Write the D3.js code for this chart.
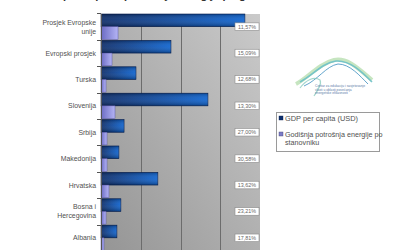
<!DOCTYPE html>
<html>
<head>
<meta charset="utf-8">
<script src="https://cdn.jsdelivr.net/npm/d3@7"></script>
<style>
  html, body { margin: 0; padding: 0; background: #fff; }
  svg { display: block; font-family: "Liberation Sans", Arial, sans-serif; }
</style>
</head>
<body>
<svg id="chart" width="400" height="250"></svg>
<script>
// Countries / regions, top to bottom
const categories = [
  "Prosjek Evropske unije",
  "Evropski prosjek",
  "Turska",
  "Slovenija",
  "Srbija",
  "Makedonija",
  "Hrvatska",
  "Bosna i Hercegovina",
  "Albania"
];
// Wrapped category labels
const categoryLines = [
  ["Prosjek Evropske", "unije"],
  ["Evropski prosjek"],
  ["Turska"],
  ["Slovenija"],
  ["Srbija"],
  ["Makedonija"],
  ["Hrvatska"],
  ["Bosna i", "Hercegovina"],
  ["Albania"]
];
// GDP per capita (USD)
const gdpPerCapita = [36200, 17600, 8800, 26900, 5800, 4500, 14300, 5000, 4000];
// Annual energy consumption per inhabitant
const energyPerCapita = [4280, 2770, 1260, 3520, 1510, 1510, 2000, 1260, 750];
// Share labels shown at the right edge of each row
const shareLabels = ["11,57%", "15,09%", "12,68%", "13,30%", "27,00%", "30,58%", "13,62%", "23,21%", "17,81%"];
const xTicks = [10000, 20000, 30000];
const seriesNames = ["GDP per capita (USD)", "Godišnja potrošnja energije po stanovniku"];

const svg = d3.select("#chart");
const plot = { left: 101, right: 260, top: 14, bottom: 250.5 };

const x = d3.scaleLinear().domain([0, 40000]).range([plot.left, plot.right]);
const y = d3.scaleBand().domain(categories).range([plot.top, plot.bottom]).paddingInner(0.04).paddingOuter(0.0);
const sub = d3.scaleBand().domain(["gdp", "energy"]).range([0, y.bandwidth()]).padding(0);

const defs = svg.append("defs");
const bg = defs.append("linearGradient").attr("id", "bgGrad")
  .attr("x1", 0).attr("y1", 1).attr("x2", 1).attr("y2", 0);
bg.append("stop").attr("offset", 0).attr("stop-color", "#959595");
bg.append("stop").attr("offset", 1).attr("stop-color", "#cacaca");

const gdpGrad = defs.append("linearGradient").attr("id", "gdpGrad")
  .attr("x1", 0).attr("y1", 0).attr("x2", 1).attr("y2", 0);
gdpGrad.append("stop").attr("offset", 0).attr("stop-color", "#0a2a68");
gdpGrad.append("stop").attr("offset", 1).attr("stop-color", "#0b62d0");

const gdpShade = defs.append("linearGradient").attr("id", "gdpShade")
  .attr("x1", 0).attr("y1", 0).attr("x2", 0).attr("y2", 1);
gdpShade.append("stop").attr("offset", 0).attr("stop-color", "#000").attr("stop-opacity", 0.25);
gdpShade.append("stop").attr("offset", 0.45).attr("stop-color", "#fff").attr("stop-opacity", 0.08);
gdpShade.append("stop").attr("offset", 1).attr("stop-color", "#000").attr("stop-opacity", 0.3);

const enGrad = defs.append("linearGradient").attr("id", "enGrad")
  .attr("x1", 0).attr("y1", 0).attr("x2", 1).attr("y2", 0);
enGrad.append("stop").attr("offset", 0).attr("stop-color", "#6a6ac4");
enGrad.append("stop").attr("offset", 1).attr("stop-color", "#b4b4f4");

// Title (runs above the top edge of the page)
svg.append("text")
  .attr("x", 264).attr("y", -1)
  .attr("text-anchor", "end")
  .attr("font-size", 11).attr("font-weight", "bold").attr("fill", "#333")
  .text("GDP per capita i potrošnja energije po glavi");

// Plot background
svg.append("rect")
  .attr("x", plot.left).attr("y", plot.top)
  .attr("width", plot.right - plot.left).attr("height", plot.bottom - plot.top)
  .attr("fill", "url(#bgGrad)");

// Vertical gridlines
svg.append("g").selectAll("line").data(xTicks).join("line")
  .attr("x1", d => Math.round(x(d)) + 0.5).attr("x2", d => Math.round(x(d)) + 0.5)
  .attr("y1", plot.top).attr("y2", plot.bottom)
  .attr("stroke", "#6c6c6c").attr("stroke-width", 1);

// GDP bars
const rows = svg.append("g").selectAll("g").data(categories).join("g")
  .attr("transform", d => `translate(0,${y(d)})`);

rows.append("rect")
  .attr("x", plot.left)
  .attr("y", sub("gdp"))
  .attr("width", (d, i) => x(gdpPerCapita[i]) - x(0))
  .attr("height", sub.bandwidth())
  .attr("fill", "url(#gdpGrad)")
  .attr("stroke", "#0a2050").attr("stroke-width", 0.6);
rows.append("rect")
  .attr("x", plot.left)
  .attr("y", sub("gdp"))
  .attr("width", (d, i) => x(gdpPerCapita[i]) - x(0))
  .attr("height", sub.bandwidth())
  .attr("fill", "url(#gdpShade)");

// Energy bars
rows.append("rect")
  .attr("x", plot.left)
  .attr("y", sub("energy"))
  .attr("width", (d, i) => x(energyPerCapita[i]) - x(0))
  .attr("height", sub.bandwidth())
  .attr("fill", "url(#enGrad)")
  .attr("stroke", "#5656a8").attr("stroke-width", 0.5);

// Share labels in boxes
const lab = svg.append("g").selectAll("g").data(categories).join("g")
  .attr("transform", d => `translate(247,${y(d) + y.bandwidth() / 2})`);
lab.append("rect")
  .attr("x", -12).attr("y", -3.8).attr("width", 24).attr("height", 7.6)
  .attr("fill", "#fff").attr("stroke", "#8a8a8a").attr("stroke-width", 0.6);
lab.append("text")
  .attr("text-anchor", "middle").attr("y", 2)
  .attr("font-size", 5.4).attr("fill", "#666")
  .text((d, i) => shareLabels[i]);

// Left axis
const axisG = svg.append("g");
axisG.append("line")
  .attr("x1", plot.left + 0.5).attr("x2", plot.left + 0.5)
  .attr("y1", plot.top).attr("y2", plot.bottom)
  .attr("stroke", "#555").attr("stroke-width", 1);
const boundaries = categories.map(c => y(c) - y.step() * y.paddingInner() / 2);
axisG.selectAll(".tk").data(boundaries).join("line")
  .attr("class", "tk")
  .attr("x1", plot.left - 4).attr("x2", plot.left)
  .attr("y1", d => Math.round(d) + 0.5).attr("y2", d => Math.round(d) + 0.5)
  .attr("stroke", "#555").attr("stroke-width", 1);

// Category labels
const catText = svg.append("g").selectAll("text").data(categories).join("text")
  .attr("text-anchor", "end")
  .attr("font-size", 6.9).attr("fill", "#505050")
  .attr("x", 96)
  .attr("y", (d, i) => {
    const n = categoryLines[i].length;
    return y(d) + y.bandwidth() / 2 + 2.5 - (n - 1) * 4.5;
  });
catText.each(function(d, i) {
  d3.select(this).selectAll("tspan").data(categoryLines[i]).join("tspan")
    .attr("x", 96).attr("dy", (t, j) => j === 0 ? 0 : 9)
    .text(t => t);
});

// Organisation logo: swoosh and small caption
const logo = svg.append("g");
logo.append("path")
  .attr("d", "M296,84 C308,78 318,64 334,60 C348,57 360,70 372,80")
  .attr("fill", "none").attr("stroke", "#b8dfb0").attr("stroke-width", 4).attr("opacity", 0.8);
logo.append("path")
  .attr("d", "M300,82 C312,76 322,63 336,61 C350,60 362,72 372,82")
  .attr("fill", "none").attr("stroke", "#6cc0c8").attr("stroke-width", 1.6).attr("opacity", 0.9);
logo.append("path")
  .attr("d", "M304,86 C318,80 326,66 338,64 C350,64 360,76 368,84")
  .attr("fill", "none").attr("stroke", "#3c8fbf").attr("stroke-width", 1).attr("opacity", 0.8);
logo.append("path")
  .attr("d", "M300,88 C306,80 314,76 320,80 C322,84 318,90 314,96")
  .attr("fill", "none").attr("stroke", "#7cc6b8").attr("stroke-width", 1.2).attr("opacity", 0.7);
const capLines = ["Centar za edukaciju i savjetovanje", "vlasti u oblasti povećanja", "energetske efikasnosti"];
logo.append("g").selectAll("text").data(capLines).join("text")
  .attr("x", 315).attr("y", (d, i) => 87 + i * 3.6)
  .attr("font-size", 3.3).attr("fill", "#5a7aa8")
  .text(d => d);

// Legend
const legend = svg.append("g");
legend.append("rect")
  .attr("x", 276.5).attr("y", 112.5).attr("width", 103).attr("height", 39)
  .attr("fill", "#fff").attr("stroke", "#9a9a9a").attr("stroke-width", 1);
legend.append("rect")
  .attr("x", 279).attr("y", 116).attr("width", 4).attr("height", 4)
  .attr("fill", "#0c2f6e").attr("stroke", "#0a2050").attr("stroke-width", 0.4);
legend.append("text")
  .attr("x", 285).attr("y", 120.5)
  .attr("font-size", 7.4).attr("fill", "#505050")
  .text(seriesNames[0]);
legend.append("rect")
  .attr("x", 279).attr("y", 132).attr("width", 4).attr("height", 4)
  .attr("fill", "#7c7cc8").attr("stroke", "#404070").attr("stroke-width", 0.4);
const t2 = legend.append("text")
  .attr("x", 285).attr("y", 136.5)
  .attr("font-size", 7.2).attr("fill", "#505050");
t2.append("tspan").attr("x", 285).attr("dy", 0).text("Godišnja potrošnja energije po");
t2.append("tspan").attr("x", 285).attr("dy", 8).text("stanovniku");
</script>
</body>
</html>
